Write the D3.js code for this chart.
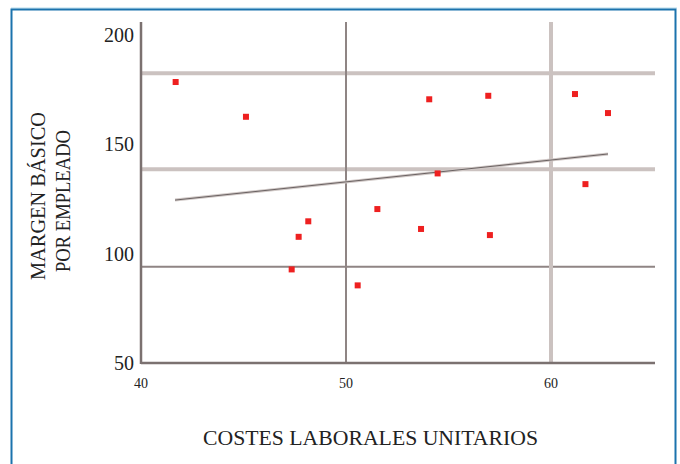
<!DOCTYPE html>
<html><head><meta charset="utf-8">
<script src="https://cdn.jsdelivr.net/npm/d3@7"></script>
<style>html,body{margin:0;padding:0;background:#fff;}svg{display:block;}</style>
</head><body>
<svg id="chart" width="680" height="464"></svg>
<script>
const costes = [41.69, 45.12, 47.35, 47.69, 48.16, 50.57, 51.53, 53.66, 54.06, 54.47, 56.94, 57.02, 61.17, 61.68, 62.78];
const margen = [178.5, 162.6, 92.8, 107.7, 114.8, 85.5, 120.4, 111.3, 170.6, 136.7, 172.2, 108.5, 173.0, 131.8, 164.3];
const xTicks = [40, 50, 60];
const yTicks = [50, 100, 150, 200];
const hLinesLight = [182.5, 138.6];
const hLinesDark = [94.0];
const vLinesDark = [50];
const vLinesLight = [60];
const trendX = [41.66, 62.78];
const trendY = [124.5, 145.6];
const xTitle = "COSTES LABORALES UNITARIOS";
const yTitle = ["MARGEN BÁSICO", "POR EMPLEADO"];

const svg = d3.select("#chart");
const x = d3.scaleLinear().domain([40, 60]).range([141, 551]);
const y = d3.scaleLinear().domain([50, 200]).range([363, 35]);
const xMax = 655, yTop = 22;

// frame
svg.append("line").attr("x1", 11).attr("x2", 677).attr("y1", 8).attr("y2", 8).attr("stroke", "#b5dcec").attr("stroke-width", 1);
svg.append("path").attr("d", `M11.5,470 V9.5 H675.5 V470`).attr("fill", "none").attr("stroke", "#1b73ad").attr("stroke-width", 2);

const serif = "'Liberation Serif', 'Times New Roman', serif";
const light = "#cbc2c0", dark = "#8f8584";

// gridlines
svg.selectAll(".hl").data(hLinesLight).join("line")
  .attr("x1", x(40)).attr("x2", xMax).attr("y1", d => y(d)).attr("y2", d => y(d))
  .attr("stroke", light).attr("stroke-width", 4);
svg.selectAll(".hd").data(hLinesDark).join("line")
  .attr("x1", x(40)).attr("x2", xMax).attr("y1", d => y(d)).attr("y2", d => y(d))
  .attr("stroke", dark).attr("stroke-width", 2);
svg.selectAll(".vl").data(vLinesLight).join("line")
  .attr("x1", d => x(d)).attr("x2", d => x(d)).attr("y1", yTop).attr("y2", y(50))
  .attr("stroke", light).attr("stroke-width", 4);
svg.selectAll(".vd").data(vLinesDark).join("line")
  .attr("x1", d => x(d)).attr("x2", d => x(d)).attr("y1", yTop).attr("y2", y(50))
  .attr("stroke", dark).attr("stroke-width", 2);

// axes
svg.append("line").attr("x1", x(40)).attr("x2", x(40)).attr("y1", yTop).attr("y2", y(50) + 1)
  .attr("stroke", "#7b7170").attr("stroke-width", 2.5);
svg.append("line").attr("x1", x(40)).attr("x2", xMax).attr("y1", y(50)).attr("y2", y(50))
  .attr("stroke", "#7b7170").attr("stroke-width", 2.5);

// tick labels
svg.selectAll(".yt").data(yTicks).join("text")
  .attr("x", 134).attr("y", d => y(d)).attr("dy", "0.35em")
  .attr("text-anchor", "end").attr("font-family", serif).attr("font-size", 20).attr("fill", "#222")
  .text(d => d);
svg.selectAll(".xt").data(xTicks).join("text")
  .attr("x", d => x(d)).attr("y", 388)
  .attr("text-anchor", "middle").attr("font-family", serif).attr("font-size", 14).attr("fill", "#222")
  .text(d => d);

// trend line
const line = d3.line().x(d => x(d[0])).y(d => y(d[1]));
const trend = trendX.map((v, i) => [v, trendY[i]]);
svg.append("path").attr("d", line(trend)).attr("stroke", "#d0c8c6").attr("stroke-width", 3).attr("fill", "none");
svg.append("path").attr("d", line(trend)).attr("stroke", "#6a6262").attr("stroke-width", 1).attr("fill", "none");

// points
svg.selectAll(".pt").data(costes).join("rect")
  .attr("x", (d, i) => x(d) - 3).attr("y", (d, i) => y(margen[i]) - 3)
  .attr("width", 6).attr("height", 6).attr("fill", "#ee2020");

// titles
svg.append("text").attr("x", 370.5).attr("y", 445).attr("text-anchor", "middle")
  .attr("font-family", serif).attr("font-size", 20).attr("fill", "#222")
  .attr("textLength", 335).attr("lengthAdjust", "spacingAndGlyphs").text(xTitle);
const yCenters = [196, 201], yLens = [168, 142], yXs = [45, 70];
yTitle.forEach((t, i) => {
  svg.append("text").attr("transform", `translate(${yXs[i]},${yCenters[i]}) rotate(-90)`)
    .attr("text-anchor", "middle").attr("font-family", serif).attr("font-size", 20).attr("fill", "#222")
    .attr("textLength", yLens[i]).attr("lengthAdjust", "spacingAndGlyphs").text(t);
});
</script>
</body></html>
